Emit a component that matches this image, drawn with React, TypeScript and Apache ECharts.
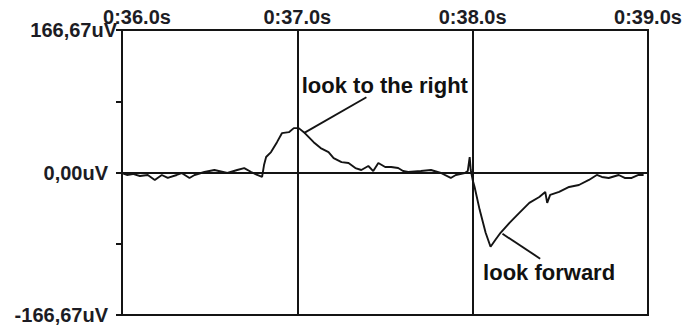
import React, { useEffect, useRef } from "react";
import * as echarts from "echarts";

// time in seconds, amplitude in uV
const times = [
  36.0, 36.028, 36.062, 36.102, 36.147, 36.187, 36.227, 36.261, 36.312, 36.34,
  36.385, 36.414, 36.47, 36.527, 36.601, 36.657, 36.697, 36.737, 36.771, 36.799,
  36.81, 36.822, 36.85, 36.884, 36.912, 36.952, 36.98, 37.008, 37.037, 37.065,
  37.093, 37.133, 37.178, 37.207, 37.252, 37.292, 37.331, 37.365, 37.405, 37.433,
  37.462, 37.501, 37.535, 37.575, 37.603, 37.632, 37.705, 37.762, 37.819, 37.875,
  37.904, 37.955, 37.972, 37.983, 37.989, 38.0, 38.011, 38.04, 38.074, 38.102,
  38.13, 38.159, 38.21, 38.266, 38.323, 38.38, 38.414, 38.425, 38.442, 38.493,
  38.55, 38.606, 38.663, 38.708, 38.737, 38.776, 38.833, 38.867, 38.907, 38.946,
  38.975,
];
const values = [
  -0.6, -2.9, -1.7, -4.1, -2.9, -8.7, -2.9, -6.4, -2.9, -0.6,
  -6.4, -2.9, 0.6, 2.9, -0.6, 2.9, 5.2, 0.6, -2.9, -5.2,
  8.7, 18.1, 23.9, 35.5, 46.0, 47.2, 51.9, 51.9, 47.2, 41.4,
  35.5, 28.6, 23.9, 16.9, 12.2, 11.1, 5.2, 2.9, 7.6, 1.7,
  11.1, 6.4, 6.4, 5.2, 1.7, 0.6, 1.7, 2.9, -0.6, -6.4,
  -2.9, -0.6, 1.7, 18.1, 2.9, -8.7, -16.9, -43.7, -70.5, -86.8,
  -78.7, -70.5, -58.9, -47.2, -35.5, -28.6, -22.7, -35.5, -26.2, -22.7,
  -16.9, -14.6, -8.7, -2.9, -5.2, -6.4, -2.9, -6.4, -6.4, -2.9,
  -2.9,
];

const xTicks = [36, 37, 38, 39];
const yLimit = 166.67;

const annotationTexts = ["look to the right", "look forward"];
const annotationAnchors = [
  [37.025, 102],
  [38.436, -117],
];
const pointerStarts = [
  [37.037, 46.0],
  [38.17, -71.7],
];
const pointerEnds = [
  [37.394, 88.0],
  [38.385, -100.8],
];

const INK = "#141414";
const FONT = "'Liberation Sans', Arial, sans-serif";

export default function App() {
  const ref = useRef<HTMLDivElement>(null);

  useEffect(() => {
    if (!ref.current) return;
    const chart = echarts.init(ref.current, null, { renderer: "svg" });

    const lineData = times.map((t, i) => [t, values[i]]);
    const interval = yLimit / 2;

    chart.setOption({
      animation: false,
      backgroundColor: "#ffffff",
      grid: {
        left: 122,
        top: 30,
        right: 43,
        bottom: 11,
        show: true,
        borderColor: INK,
        borderWidth: 2,
        backgroundColor: "transparent",
      },
      xAxis: {
        type: "value",
        position: "top",
        min: xTicks[0],
        max: xTicks[xTicks.length - 1],
        interval: 1,
        axisLine: { show: true, lineStyle: { color: INK, width: 2 } },
        axisTick: { show: false },
        splitLine: { show: true, lineStyle: { color: INK, width: 2 } },
        axisLabel: {
          margin: 3,
          color: "#1c1c24",
          fontFamily: FONT,
          fontWeight: "bold",
          fontSize: 20,
          formatter: (v: number) =>
            v === xTicks[0] ? `{f|0:${v.toFixed(1)}s}` : `0:${v.toFixed(1)}s`,
          rich: {
            f: {
              padding: [0, 0, 0, 30],
              color: "#1c1c24",
              fontFamily: FONT,
              fontWeight: "bold",
              fontSize: 20,
            },
          },
        },
      },
      yAxis: {
        type: "value",
        min: -yLimit,
        max: yLimit,
        interval: interval,
        axisLine: { show: true, lineStyle: { color: INK, width: 2 } },
        axisTick: { show: true, length: 6, lineStyle: { color: INK, width: 2 } },
        splitLine: { show: false },
        axisLabel: {
          margin: 5,
          color: "#1c1c24",
          fontFamily: FONT,
          fontWeight: "bold",
          fontSize: 20,
          formatter: (v: number) => {
            if (Math.abs(v - yLimit) < 0.01) return "166,67uV";
            if (Math.abs(v) < 0.01) return "{p|0,00uV}";
            if (Math.abs(v + yLimit) < 0.01) return "{p|-166,67uV}";
            return "";
          },
          rich: {
            p: {
              padding: [0, 9, 0, 0],
              color: "#1c1c24",
              fontFamily: FONT,
              fontWeight: "bold",
              fontSize: 20,
            },
          },
        },
      },
      series: [
        {
          type: "line",
          data: lineData,
          showSymbol: false,
          symbol: "none",
          lineStyle: { color: INK, width: 1.9 },
          z: 3,
          markLine: {
            silent: true,
            symbol: ["none", "none"],
            label: { show: false },
            lineStyle: { color: INK, type: "solid" },
            data: [
              { yAxis: 0, lineStyle: { width: 2, color: INK, type: "solid" } },
              ...pointerStarts.map((s, i) => [
                { coord: s, lineStyle: { width: 1.9, color: INK, type: "solid" } },
                { coord: pointerEnds[i] },
              ]),
            ],
          },
          markPoint: {
            silent: true,
            symbol: "circle",
            symbolSize: 0,
            data: [
              {
                coord: annotationAnchors[0],
                label: {
                  show: true,
                  position: "right",
                  distance: 0,
                  formatter: annotationTexts[0],
                  color: "#111",
                  fontFamily: FONT,
                  fontWeight: "bold",
                  fontSize: 22,
                },
              },
              {
                coord: annotationAnchors[1],
                label: {
                  show: true,
                  position: "inside",
                  formatter: annotationTexts[1],
                  color: "#111",
                  fontFamily: FONT,
                  fontWeight: "bold",
                  fontSize: 22,
                },
              },
            ],
          },
        },
      ],
    });

    return () => chart.dispose();
  }, []);

  return (
    <div
      ref={ref}
      style={{
        position: "fixed",
        left: 0,
        top: 0,
        width: 691,
        height: 326,
        background: "#ffffff",
      }}
    />
  );
}
